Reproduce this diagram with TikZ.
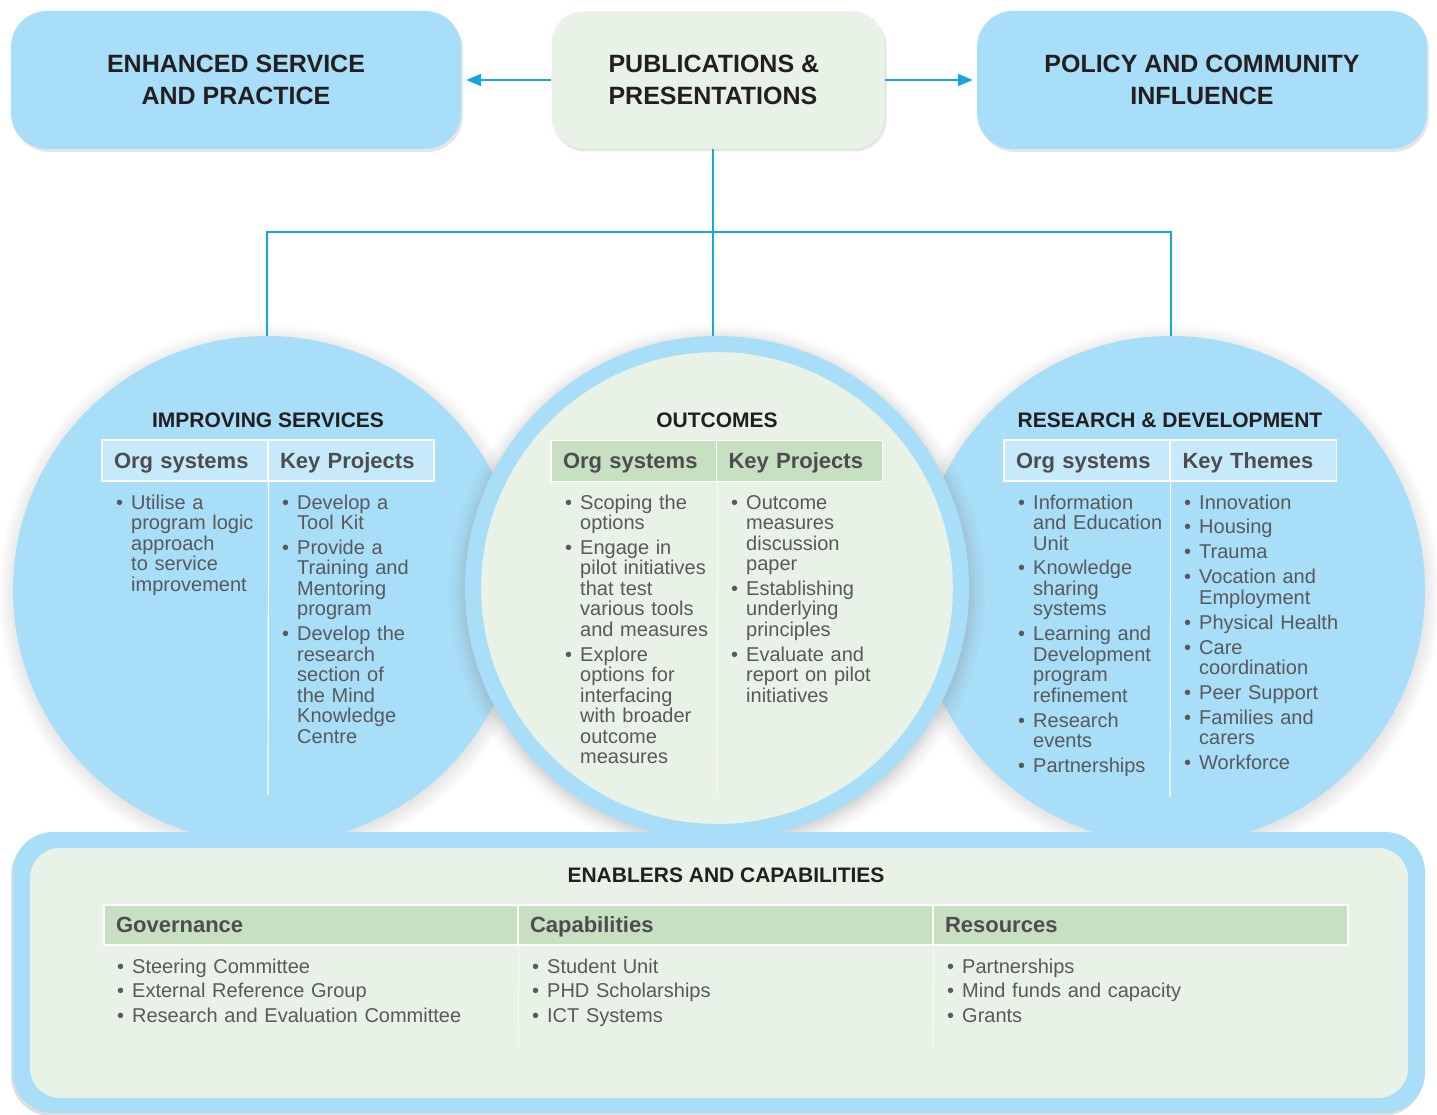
\documentclass[tikz,border=0pt]{standalone}
\usepackage{fontspec}
\setmainfont{Liberation Sans}
\usetikzlibrary{shadows,arrows.meta}

\definecolor{skyfill}{RGB}{168,222,248}
\definecolor{skyhead}{RGB}{198,234,250}
\definecolor{sagefill}{RGB}{232,242,230}
\definecolor{sagehead}{RGB}{198,224,193}
\definecolor{linkblue}{RGB}{24,166,224}
\definecolor{titleink}{RGB}{35,31,32}
\definecolor{bodyink}{RGB}{88,89,91}
\definecolor{headink}{RGB}{77,77,79}

% one bullet point, lines broken by hand
\newcommand{\bul}[1]{{\let\\\newline\hangindent=15pt\hangafter=1\noindent\makebox[15pt][l]{\textbullet}#1\par}}

\begin{document}
\begin{tikzpicture}[x=1pt,y=-1pt,
    topbox/.style={rectangle, rounded corners=36pt, minimum width=450pt, minimum height=138pt, fill=skyfill,
        drop shadow={opacity=.2, shadow xshift=2pt, shadow yshift=-3pt},
        font=\fontsize{25}{32}\selectfont\bfseries, text=titleink, align=center},
    link/.style={draw=linkblue, line width=2.2pt},
    arr/.style={link, -{Triangle[length=15pt,width=12pt]}},
    bigdisc/.style={circle, inner sep=0pt, minimum size=508pt, fill=skyfill,
        circular drop shadow={shadow scale=1.06, shadow xshift=0pt, shadow yshift=-3pt, opacity=.45}},
    title/.style={anchor=base, font=\fontsize{21}{24}\selectfont\bfseries, text=titleink},
    headcell/.style={rectangle, draw=white, line width=1.2pt, minimum height=41pt, text width=142pt, inner xsep=12pt,
        align=left, font=\fontsize{22}{24}\selectfont\bfseries, text=headink, text height=16pt, text depth=1pt},
    col/.style={anchor=base west, text width=165pt, inner sep=0pt, align=left, font=\fontsize{20}{20.5}\selectfont,
        text=bodyink, execute at begin node={\setlength{\parskip}{4.4pt}}},
    divider/.style={draw=white, line width=1.2pt}
]
\useasboundingbox (0,0) rectangle (1437,1115);

% top row
\node (esp) at (236,80) [topbox] {ENHANCED SERVICE\\AND PRACTICE};
\node (pub) at (718,80) [topbox, minimum width=333pt, minimum height=137pt, fill=sagefill, rounded corners=32pt] {};
\node (pubtxt) at (605,80) [anchor=west, align=left, font=\fontsize{25}{32}\selectfont\bfseries, text=titleink] {PUBLICATIONS \&\\PRESENTATIONS};
\node (pcl) at (1202,80) [topbox] {POLICY AND COMMUNITY\\INFLUENCE};

\draw[arr, shorten >=5pt] (pub.west) -- (esp.east);
\draw[arr, shorten >=4pt] (pub.east) -- (pcl.west);

% the three circles
\node (isc) at (267,590) [bigdisc] {};
\node (rdc) at (1171,590) [bigdisc] {};
\node (occ) at (717,588) [bigdisc, fill=sagefill, draw=skyfill, line width=16pt, minimum size=488pt,
    circular drop shadow={shadow scale=1.1, shadow xshift=0pt, shadow yshift=-3pt, opacity=.45}] {};

\coordinate (hub) at (713,232);
\draw[link] (hub |- pub.south) -- (hub |- occ.north);
\draw[link] (isc.north) |- (hub) -| (rdc.north);

% improving services
\node (ist) at (268,427) [title] {IMPROVING SERVICES};
\node (ish1) at (185,460.5) [headcell, fill=skyhead] {Org systems};
\node (ish2) at (351,460.5) [headcell, fill=skyhead] {Key Projects};
\coordinate (isd) at (268,795);
\draw[divider] (ish1.south east) -- (isd);
\node (isb1) at (116,509) [col] {\bul{Utilise a\\program logic\\approach\\to service\\improvement}};
\node (isb2) at (282,509) [col] {\bul{Develop a\\Tool Kit}\bul{Provide a\\Training and\\Mentoring\\program}%
    \bul{Develop the\\research\\section of\\the Mind\\Knowledge\\Centre}};

% outcomes
\node (oct) at (717,427) [title] {OUTCOMES};
\node (och1) at (634,461) [headcell, fill=sagehead] {Org systems};
\node (och2) at (799.5,461) [headcell, fill=sagehead] {Key Projects};
\coordinate (ocd) at (717,795);
\draw[divider, draw=white!60!sagefill] (och1.south east) -- (ocd);
\node (ocb1) at (565,509) [col] {\bul{Scoping the\\options}\bul{Engage in\\pilot initiatives\\that test\\various tools\\and measures}%
    \bul{Explore\\options for\\interfacing\\with broader\\outcome\\measures}};
\node (ocb2) at (731,509) [col] {\bul{Outcome\\measures\\discussion\\paper}\bul{Establishing\\underlying\\principles}%
    \bul{Evaluate and\\report on pilot\\initiatives}};

% research and development
\node (rdt) at (1170,427) [title] {RESEARCH \& DEVELOPMENT};
\node (rdh1) at (1087,460.5) [headcell, fill=skyhead] {Org systems};
\node (rdh2) at (1253.5,460.5) [headcell, fill=skyhead] {Key Themes};
\coordinate (rdd) at (1170,797);
\draw[divider] (rdh1.south east) -- (rdd);
\node (rdb1) at (1018,509) [col] {\bul{Information\\and Education\\Unit}\bul{Knowledge\\sharing\\systems}%
    \bul{Learning and\\Development\\program\\refinement}\bul{Research\\events}\bul{Partnerships}};
\node (rdb2) at (1184,509) [col] {\bul{Innovation}\bul{Housing}\bul{Trauma}\bul{Vocation and\\Employment}%
    \bul{Physical Health}\bul{Care\\coordination}\bul{Peer Support}\bul{Families and\\carers}\bul{Workforce}};

% enablers
\node (enb) at (719,972.5) [rectangle, rounded corners=40pt, minimum width=1412pt, minimum height=281pt, fill=skyfill,
    drop shadow={opacity=.25, shadow xshift=-2pt, shadow yshift=-3pt}] {};
\node (enbin) at (719,973) [rectangle, rounded corners=30pt, minimum width=1378pt, minimum height=250pt, fill=sagefill] {};
\node (enbt) at (726,882) [title] {ENABLERS AND CAPABILITIES};
\node (gvh) at (311,925) [headcell, fill=sagehead, minimum height=40pt, text width=390pt] {Governance};
\node (cph) at (725.5,925) [headcell, fill=sagehead, minimum height=40pt, text width=391pt] {Capabilities};
\node (rsh) at (1140.5,925) [headcell, fill=sagehead, minimum height=40pt, text width=391pt] {Resources};
\coordinate (gvd) at (518,1048);
\coordinate (cpd) at (933,1048);
\draw[divider, draw=white!60!sagefill] (gvh.south east) -- (gvd);
\draw[divider, draw=white!60!sagefill] (cph.south east) -- (cpd);
\node (gvb) at (117,973) [col, text width=380pt] {\bul{Steering Committee}\bul{External Reference Group}\bul{Research and Evaluation Committee}};
\node (cpb) at (532,973) [col, text width=380pt] {\bul{Student Unit}\bul{PHD Scholarships}\bul{ICT Systems}};
\node (rsb) at (947,973) [col, text width=380pt] {\bul{Partnerships}\bul{Mind funds and capacity}\bul{Grants}};

\end{tikzpicture}
\end{document}
